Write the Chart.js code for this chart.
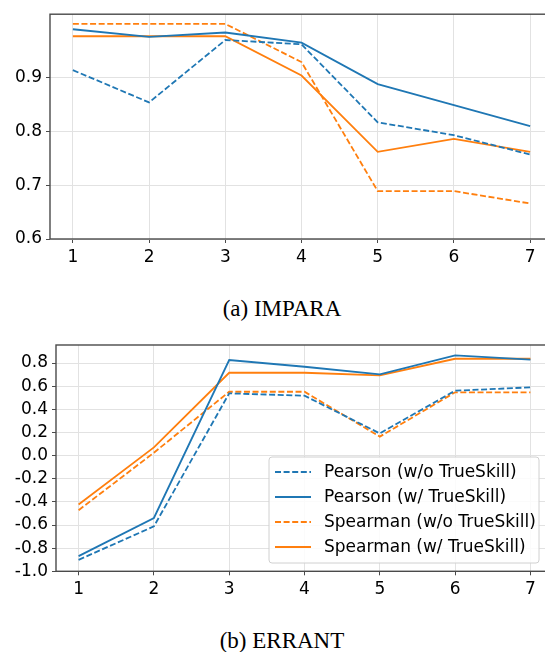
<!DOCTYPE html>
<html><head><meta charset="utf-8">
<script src="https://cdn.jsdelivr.net/npm/chart.js@4/dist/chart.umd.min.js"></script>
<style>
html,body{margin:0;padding:0;background:#fff;width:545px;height:652px;overflow:hidden;position:relative}
canvas{position:absolute;left:0}
.cap{position:absolute;left:0;width:564px;text-align:center;font-family:"Liberation Serif","Times New Roman",serif;font-size:23px;line-height:23px;color:#000;white-space:nowrap}
</style></head><body>
<canvas id="c1" width="560" height="280" style="top:0px"></canvas>
<canvas id="c2" width="560" height="290" style="top:330px"></canvas>
<div class="cap" style="top:297px">(a) IMPARA</div>
<div class="cap" style="top:629px">(b) ERRANT</div>
<script>
const xTicks = [1, 2, 3, 4, 5, 6, 7];
const seriesLabels = ['Pearson (w/o TrueSkill)', 'Pearson (w/ TrueSkill)', 'Spearman (w/o TrueSkill)', 'Spearman (w/ TrueSkill)'];

const impYTicks = [0.6, 0.7, 0.8, 0.9];
const impPearsonWo  = [0.914, 0.854, 0.970, 0.962, 0.817, 0.793, 0.757];
const impPearsonW   = [0.990, 0.976, 0.984, 0.965, 0.888, 0.849, 0.810];
const impSpearmanWo = [1.000, 1.000, 1.000, 0.929, 0.689, 0.689, 0.666];
const impSpearmanW  = [0.977, 0.977, 0.977, 0.904, 0.762, 0.786, 0.762];

const errYTicks = [-1.0, -0.8, -0.6, -0.4, -0.2, 0.0, 0.2, 0.4, 0.6, 0.8];
const errPearsonWo  = [-0.901, -0.612, 0.538, 0.518, 0.192, 0.561, 0.590];
const errPearsonW   = [-0.869, -0.539, 0.826, 0.768, 0.702, 0.866, 0.829];
const errSpearmanWo = [-0.472, 0.025, 0.552, 0.552, 0.164, 0.547, 0.547];
const errSpearmanW  = [-0.423, 0.071, 0.716, 0.716, 0.693, 0.837, 0.837];

const BLUE = '#1f77b4', ORANGE = '#ff7f0e';
const DASH = [6, 2.6];
const styles = [
  {color: BLUE, dash: DASH},
  {color: BLUE, dash: []},
  {color: ORANGE, dash: DASH},
  {color: ORANGE, dash: []}
];
const FONT = {family: '"DejaVu Sans", sans-serif', size: 17};

function mkDatasets(arrs) {
  return arrs.map((vals, i) => ({
    label: seriesLabels[i],
    data: xTicks.map((x, j) => ({x: x, y: vals[j]})),
    borderColor: styles[i].color,
    backgroundColor: styles[i].color,
    borderDash: styles[i].dash,
    borderWidth: 1.8,
    pointRadius: 0,
    tension: 0,
    fill: false
  }));
}

const framePlugin = {
  id: 'frame',
  afterDatasetsDraw(chart) {
    const {ctx, chartArea: a} = chart;
    ctx.save();
    ctx.strokeStyle = '#4a4a4a';
    ctx.lineWidth = 1.4;
    ctx.strokeRect(a.left, a.top, a.right - a.left, a.bottom - a.top);
    ctx.restore();
  }
};

const legendPlugin = {
  id: 'inLegend',
  afterDraw(chart) {
    const {ctx, chartArea: a} = chart;
    const bx = a.left + 213, by = a.top + 112, bw = 270, bh = 106;
    ctx.save();
    ctx.beginPath();
    if (ctx.roundRect) ctx.roundRect(bx, by, bw, bh, 3); else ctx.rect(bx, by, bw, bh);
    ctx.fillStyle = 'rgba(255,255,255,0.85)';
    ctx.fill();
    ctx.strokeStyle = '#d0d0d0';
    ctx.lineWidth = 1;
    ctx.stroke();
    chart.data.datasets.forEach((ds, i) => {
      const cy = by + 15 + i * 25;
      ctx.beginPath();
      ctx.setLineDash(ds.borderDash);
      ctx.strokeStyle = ds.borderColor;
      ctx.lineWidth = 1.8;
      ctx.moveTo(bx + 6, cy);
      ctx.lineTo(bx + 42, cy);
      ctx.stroke();
      ctx.setLineDash([]);
      ctx.fillStyle = '#000';
      ctx.font = '17px "DejaVu Sans", sans-serif';
      ctx.textBaseline = 'middle';
      ctx.textAlign = 'left';
      ctx.fillText(ds.label, bx + 55, cy + 1);
    });
    ctx.restore();
  }
};

function mkChart(id, arrs, yTicks, ymin, ymax, yW, xH, padTop, extra) {
  return new Chart(document.getElementById(id), {
    type: 'line',
    data: {datasets: mkDatasets(arrs)},
    options: {
      responsive: false,
      animation: false,
      devicePixelRatio: 1,
      layout: {padding: {top: padTop, right: 7, left: 0, bottom: 0}},
      plugins: {legend: {display: false}, tooltip: {enabled: false}},
      scales: {
        x: {
          type: 'linear', min: 0.7, max: 7.3,
          afterBuildTicks: s => { s.ticks = xTicks.map(v => ({value: v})); },
          afterFit: s => { s.height = xH; },
          ticks: {font: FONT, color: '#000', padding: 4, maxRotation: 0, callback: v => String(v)},
          grid: {color: '#e2e2e2', lineWidth: 1, tickColor: '#4a4a4a', tickLength: 4},
          border: {display: false}
        },
        y: {
          type: 'linear', min: ymin, max: ymax,
          afterBuildTicks: s => { s.ticks = yTicks.map(v => ({value: v})); },
          afterFit: s => { s.width = yW; },
          ticks: {font: FONT, color: '#000', padding: 4, callback: v => Number(v).toFixed(1)},
          grid: {color: '#e2e2e2', lineWidth: 1, tickColor: '#4a4a4a', tickLength: 4},
          border: {display: false}
        }
      }
    },
    plugins: [framePlugin].concat(extra)
  });
}

mkChart('c1', [impPearsonWo, impPearsonW, impSpearmanWo, impSpearmanW], impYTicks, 0.6, 1.018, 50, 41, 12.5, []);
mkChart('c2', [errPearsonWo, errPearsonW, errSpearmanWo, errSpearmanW], errYTicks, -1.0, 0.956, 56, 48.7, 15, [legendPlugin]);
</script>
</body></html>
